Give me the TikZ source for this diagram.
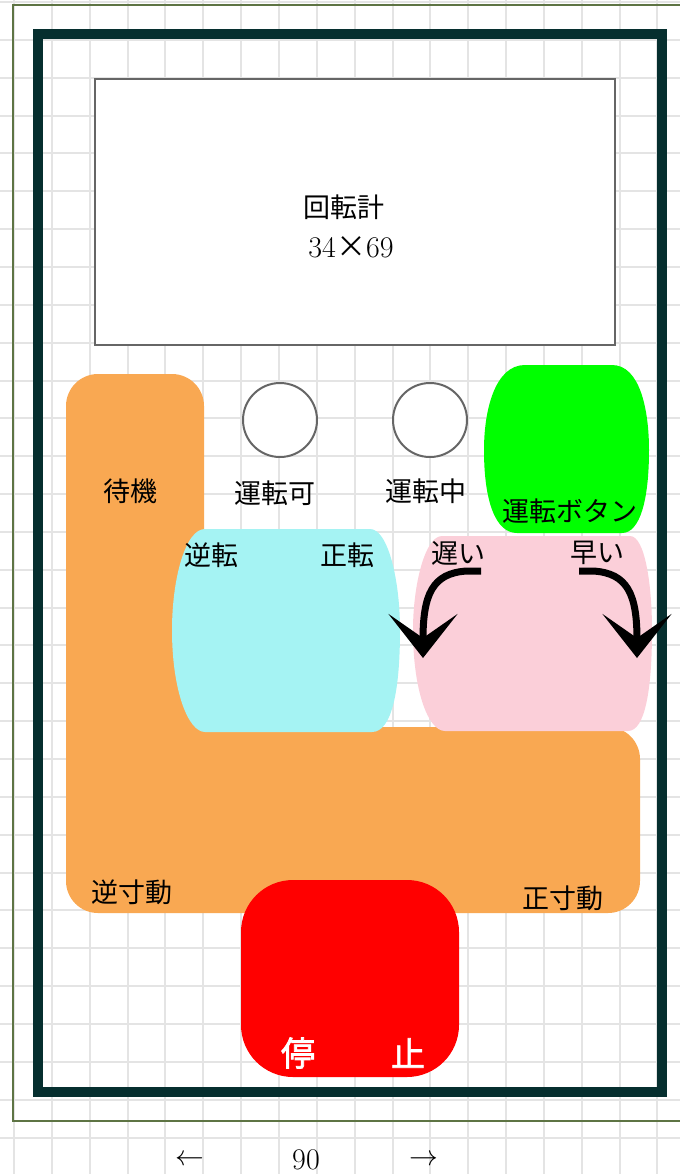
\documentclass[tikz,border=0pt]{standalone}
\usepackage{fontspec}
\newfontfamily\cjk[AutoFakeBold=2]{Noto Sans CJK JP}
\usepackage{tikz}
\usetikzlibrary{arrows.meta}
\definecolor{gridgray}{HTML}{E4E4E4}
\definecolor{frameDark}{HTML}{062F2F}
\definecolor{frameGreen}{HTML}{5E7444}
\definecolor{meterGray}{HTML}{666666}
\definecolor{orangeKey}{HTML}{F9A852}
\definecolor{cyanKey}{HTML}{A5F3F3}
\definecolor{pinkKey}{HTML}{FBCFD9}
\definecolor{greenKey}{HTML}{00FF00}
\definecolor{redKey}{HTML}{FF0000}
\tikzset{
  gridline/.style={draw=gridgray, line width=1pt},
  keylabel/.style={font=\cjk\fontsize{13.5}{16}\selectfont, inner sep=0pt},
  numlabel/.style={font=\fontsize{15}{18}\selectfont, inner sep=0pt},
  stoplabel/.style={font=\cjk\bfseries\fontsize{17}{20}\selectfont, text=white, inner sep=0pt},
  lamp/.style={circle, draw=meterGray, fill=white, line width=1pt, minimum size=37pt, inner sep=0pt},
  speedarrow/.style={line width=3.5pt, -{Stealth[length=22pt, width=34.5pt, inset=12pt]}}
}
\begin{document}
\begin{tikzpicture}[x=0.5pt, y=-0.5pt]
\clip (0,0) rectangle (680,1174);
\draw[gridline, shift={(14,2)}, step=18.925pt] (-40,-40) grid (720,1220);
\draw[frameGreen, line width=1.2pt] (13,5) rectangle (720,1121);
\draw[frameDark, line width=5.25pt] (38,34) rectangle (662,1092);
% meter
\filldraw[draw=meterGray, fill=white, line width=1pt] (95,79) rectangle (615,345);
\node[keylabel] (meterName) at (344,207) {回転計};
\node[numlabel] (meterSize) at (351,247) {34{\cjk ×}69};
% keys
\fill[orangeKey, rounded corners=16pt] (66,374) -- (204,374) -- (204,727) -- (640,727) -- (640,913) -- (66,913) -- cycle;
\fill[cyanKey] (205,529) -- (370,529) .. controls (388,529) and (400,580) .. (400,630) .. controls (400,690) and (392,732) .. (372,732) -- (205,732) .. controls (188,732) and (172,690) .. (172,630) .. controls (172,580) and (185,529) .. (205,529) -- cycle;
\fill[pinkKey] (442,536) -- (630,536) .. controls (645,536) and (652,585) .. (652,630) .. controls (652,690) and (645,731) .. (628,731) -- (445,731) .. controls (428,731) and (413,690) .. (413,630) .. controls (413,585) and (425,536) .. (442,536) -- cycle;
\fill[greenKey] (525,365) -- (612,365) .. controls (640,365) and (649,410) .. (649,450) .. controls (649,500) and (640,533) .. (622,533) -- (517,533) .. controls (495,533) and (484,500) .. (484,450) .. controls (484,410) and (495,365) .. (525,365) -- cycle;
\fill[redKey, rounded corners=26pt] (241,880) rectangle (459,1077);
% lamps
\node[lamp] (lampReady) at (280,420) {};
\node[lamp] (lampRun) at (430,420) {};
% labels
\node[keylabel] (lblWait) at (130,491) {待機};
\node[keylabel] (lblReady) at (275,493) {運転可};
\node[keylabel] (lblRun) at (426,491) {運転中};
\node[keylabel] (lblRunBtn) at (570,511) {運転ボタン};
\node[keylabel] (lblRev) at (211,555) {逆転};
\node[keylabel] (lblFwd) at (347,555) {正転};
\node[keylabel] (lblSlow) at (458,553) {遅い};
\node[keylabel] (lblFast) at (597,553) {早い};
\node[keylabel] (lblRevJog) at (132,892) {逆寸動};
\node[keylabel] (lblFwdJog) at (563,898) {正寸動};
\node[stoplabel] (lblStop1) at (298,1053) {停};
\node[stoplabel] (lblStop2) at (408,1053) {止};
% speed arrows
\coordinate (slowFrom) at (481,571);
\coordinate (slowTo) at (423,658);
\coordinate (fastFrom) at (579,571);
\coordinate (fastTo) at (637,658);
\draw[speedarrow] (slowFrom) -- ++(-14,0) .. controls (432,573) and (423,595) .. (slowTo);
\draw[speedarrow] (fastFrom) -- ++(14,0) .. controls (628,573) and (637,595) .. (fastTo);
% width
\node[numlabel] (dimLeft) at (190,1160) {$\leftarrow$};
\node[numlabel] (dimValue) at (306,1160) {90};
\node[numlabel] (dimRight) at (424,1160) {$\rightarrow$};
\end{tikzpicture}
\end{document}
